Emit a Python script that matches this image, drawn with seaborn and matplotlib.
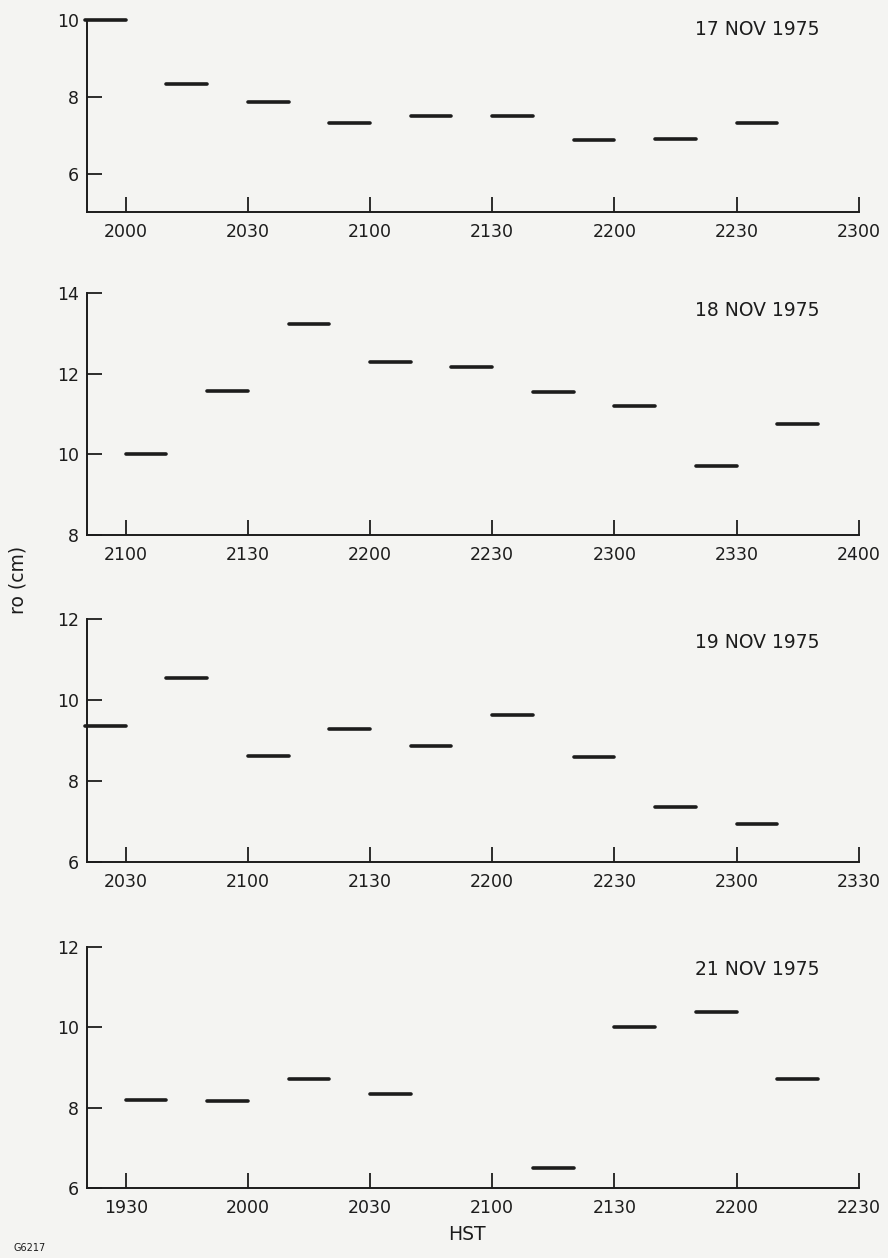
import matplotlib

matplotlib.use("Agg")

import matplotlib.pyplot as plt
import pandas as pd
import seaborn as sns

BG = "#f4f4f2"
INK = "#1c1c1c"

DATES = ["17 NOV 1975", "18 NOV 1975", "19 NOV 1975", "21 NOV 1975"]
# first labelled HST tick on each panel's time axis
AXIS_START = [2000, 2100, 2030, 1930]
X_TICK_LABELS = [
    ["2000", "2030", "2100", "2130", "2200", "2230", "2300"],
    ["2100", "2130", "2200", "2230", "2300", "2330", "2400"],
    ["2030", "2100", "2130", "2200", "2230", "2300", "2330"],
    ["1930", "2000", "2030", "2100", "2130", "2200", "2230"],
]
Y_LIMITS = [(5, 10), (8, 14), (6, 12), (6, 12)]
Y_TICKS = [[6, 8, 10], [8, 10, 12, 14], [6, 8, 10, 12], [6, 8, 10, 12]]

# start (HST) of each 10-minute r0 estimate, and the value in cm
START_17 = [1950, 2010, 2030, 2050, 2110, 2130, 2150, 2210, 2230]
RO_17 = [10.0, 8.33, 7.86, 7.31, 7.51, 7.49, 6.87, 6.89, 7.31]
START_18 = [2100, 2120, 2140, 2200, 2220, 2240, 2300, 2320, 2340]
RO_18 = [10.0, 11.56, 13.23, 12.28, 12.17, 11.55, 11.21, 9.71, 10.74]
START_19 = [2020, 2040, 2100, 2120, 2140, 2200, 2220, 2240, 2300]
RO_19 = [9.35, 10.53, 8.61, 9.29, 8.87, 9.63, 8.58, 7.36, 6.93]
START_21 = [1930, 1950, 2010, 2030, 2110, 2130, 2150, 2210]
RO_21 = [8.18, 8.16, 8.71, 8.34, 6.50, 10.02, 10.38, 8.72]
SAMPLE_MIN = 10

STARTS = [START_17, START_18, START_19, START_21]
VALUES = [RO_17, RO_18, RO_19, RO_21]


def minutes(hhmm):
    return (hhmm // 100) * 60 + hhmm % 100


def segments(starts, values, origin):
    rows = []
    for i, (s, v) in enumerate(zip(starts, values)):
        t0 = minutes(s) - minutes(origin)
        rows.append({"t": t0, "ro": v, "seg": i})
        rows.append({"t": t0 + SAMPLE_MIN, "ro": v, "seg": i})
    return pd.DataFrame(rows)


sns.set_style("ticks")
plt.rcParams["font.family"] = ["DejaVu Sans"]
plt.rcParams["figure.facecolor"] = BG
plt.rcParams["axes.facecolor"] = BG

fig = plt.figure(figsize=(8.88, 12.58), dpi=100)

# axes boxes in figure fractions (left, bottom, width, height)
boxes = [
    (0.098, 0.8315, 0.869, 0.1526),
    (0.098, 0.5747, 0.869, 0.1924),
    (0.098, 0.3148, 0.869, 0.1932),
    (0.098, 0.0556, 0.869, 0.1916),
]
title_y = [0.948, 0.926, 0.905, 0.905]

for k in range(4):
    ax = fig.add_axes(boxes[k])
    df = segments(STARTS[k], VALUES[k], AXIS_START[k])
    sns.lineplot(data=df, x="t", y="ro", units="seg", estimator=None,
                 color=INK, lw=2.6, ax=ax, legend=False)
    for line in ax.get_lines():
        # the first sample of some nights sits on the top tick / left spine
        line.set_clip_on(False)
    ax.set_xlim(-9.5, 180)
    ax.set_ylim(*Y_LIMITS[k])
    ax.set_xticks(range(0, 181, 30))
    ax.set_xticklabels(X_TICK_LABELS[k])
    ax.set_yticks(Y_TICKS[k])
    ax.set_xlabel("")
    ax.set_ylabel("")
    ax.tick_params(axis="x", direction="in", length=11, width=1.3,
                   pad=8, labelsize=12.5, colors=INK)
    ax.tick_params(axis="y", direction="in", length=11, width=1.3,
                   pad=6, labelsize=12.5, colors=INK)
    sns.despine(ax=ax)
    for side in ("left", "bottom"):
        ax.spines[side].set_linewidth(1.4)
        ax.spines[side].set_color(INK)
    ax.text(0.949, title_y[k], DATES[k], transform=ax.transAxes,
            ha="right", va="center", fontsize=13.5, color=INK)

fig.text(18 / 888, 1 - 580 / 1258, "ro (cm)", rotation=90, ha="center",
         va="center", fontsize=13.5, color=INK)
fig.text(467 / 888, 1 - 1235 / 1258, "HST", ha="center", va="center",
         fontsize=13.5, color=INK)
fig.text(30 / 888, 1 - 1248 / 1258, "G6217", ha="center", va="center",
         fontsize=7, color=INK)

fig.savefig("out.png", dpi=100, facecolor=BG)
